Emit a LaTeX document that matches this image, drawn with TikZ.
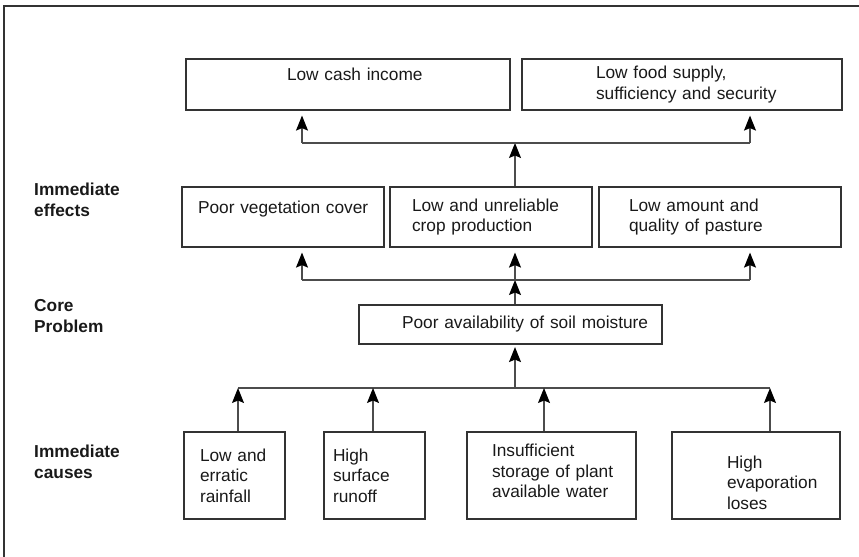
\documentclass[tikz,border=0pt]{standalone}
\usepackage{fontspec}
\setmainfont{Liberation Sans}
\usetikzlibrary{arrows.meta}
\begin{document}
\begin{tikzpicture}[x=1bp,y=-1bp,
  every node/.style={font=\fontsize{17.3bp}{20.5bp}\selectfont, text=black!90},
  box/.style={draw=black!80, line width=1.2bp, inner xsep=0pt, inner ysep=0pt, align=left},
  pad/.style={execute at begin node={\leftskip=#1\relax}},
  lab/.style={font=\bfseries\fontsize{17.3bp}{20.5bp}\selectfont, align=left, anchor=west, inner sep=0pt},
  link/.style={draw=black!70, line width=1.2bp},
  arr/.style={link, -{Stealth[length=15bp,width=12bp,inset=2.5bp,color=black]}},
  frameline/.style={draw=black!80, line width=1.6bp},
]
\useasboundingbox (0,0) rectangle (859,557);
\draw[frameline] (859,6) -- (4,6) -- (4,557);

% labels
\node[lab] (l1) at (34,200) {Immediate\\effects};
\node[lab] (l2) at (34,316) {Core\\Problem};
\node[lab] (l3) at (34,462) {Immediate\\causes};

% top row
\node[box, text width=324bp, minimum height=51bp, pad=101bp] (t1) at (348,84.5) {Low cash income\\\mbox{}};
\node[box, text width=320bp, minimum height=51bp, pad=74bp] (t2) at (682,84.5) {Low food supply,\\sufficiency and security};

% effects
\node[box, text width=202bp, minimum height=60bp, pad=16bp] (e1) at (283,217) {Poor vegetation cover\\\mbox{}};
\node[box, text width=202bp, minimum height=60bp, pad=22bp] (e2) at (491,217) {Low and unreliable\\crop production};
\node[box, text width=242bp, minimum height=60bp, pad=30bp] (e3) at (720,217) {Low amount and\\quality of pasture};

% core
\node[box, text width=303bp, minimum height=39bp, pad=43bp] (core) at (510.5,324.5) {Poor availability of soil moisture};

% causes
\node[box, text width=101bp, minimum height=87bp, pad=16bp] (c1) at (234.5,475.5) {Low and\\erratic\\rainfall};
\node[box, text width=101bp, minimum height=87bp, pad=9bp] (c2) at (374.5,475.5) {High\\surface\\runoff};
\node[box, text width=169bp, minimum height=87bp, pad=25bp, text depth=50bp] (c3) at (551.5,475.5) {Insufficient\\storage of plant\\available water};
\node[box, text width=168bp, minimum height=87bp, pad=55bp, text height=26.4bp] (c4) at (756,475.5) {High\\evaporation\\loses};

% buses
\coordinate (b1) at (515,388);
\coordinate (b1l) at (238,388);
\coordinate (b1r) at (770,388);
\coordinate (b2) at (515,280);
\coordinate (b2l) at (302,280);
\coordinate (b2r) at (750,280);
\coordinate (b3) at (515,143);
\coordinate (b3l) at (302,143);
\coordinate (b3r) at (750,143);

% causes -> core
\draw[link] (b1l) -- (b1r);
\draw[arr] (c1.north -| b1l) -- (b1l);
\draw[arr] (c2.north -| 373,0) -- (373,0 |- b1);
\draw[arr] (c3.north -| 544,0) -- (544,0 |- b1);
\draw[arr] (c4.north -| b1r) -- (b1r);
\draw[arr, shorten >=2.5bp] (b1) -- (b1 |- core.south);

% core -> effects
\draw[arr] (core.north -| b2) -- (b2);
\draw[link] (b2l) -- (b2r);
\draw[arr, shorten >=5bp] (b2l) -- (b2l |- e1.south);
\draw[arr, shorten >=5bp] (b2) -- (b2 |- e2.south);
\draw[arr, shorten >=5bp] (b2r) -- (b2r |- e3.south);

% effects -> top
\draw[arr] (e2.north -| b3) -- (b3);
\draw[link] (b3l) -- (b3r);
\draw[arr, shorten >=5bp] (b3l) -- (b3l |- t1.south);
\draw[arr, shorten >=5bp] (b3r) -- (b3r |- t2.south);
\end{tikzpicture}
\end{document}
